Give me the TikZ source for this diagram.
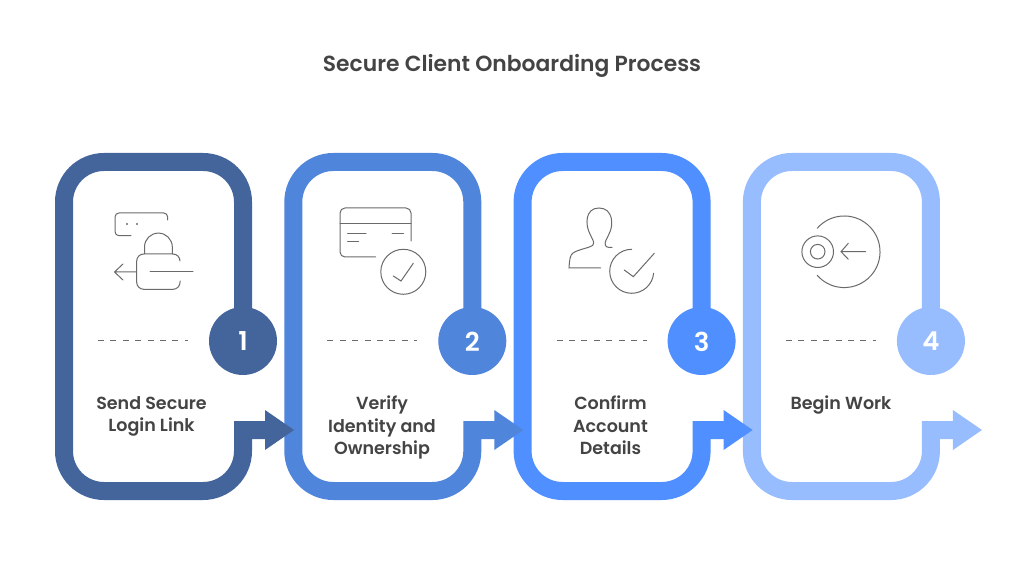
\documentclass[tikz,border=0pt]{standalone}
\usepackage{fontspec}
\setmainfont{Poppins}[BoldFont=* SemiBold]
\definecolor{stepa}{HTML}{43659B}
\definecolor{stepb}{HTML}{5085DC}
\definecolor{stepc}{HTML}{4F8FFF}
\definecolor{stepd}{HTML}{97BDFF}
\definecolor{inktext}{HTML}{444444}
\definecolor{inkicon}{HTML}{6A6A6A}
\tikzset{
	frameline/.style={line width=18pt},
	badge/.style={circle,minimum size=68pt,inner sep=0pt,text=white,font=\bfseries\fontsize{26}{26}\selectfont},
	steplabel/.style={align=center,anchor=north,inner sep=0pt,text=inktext,font=\bfseries\fontsize{17.5}{22.4}\selectfont},
	icon/.style={inkicon,line width=1pt,line cap=round},
}
\begin{document}
\begin{tikzpicture}[x=1pt,y=1pt]
	\useasboundingbox (0,0) rectangle (1024,581);
	\fill[white] (0,0) rectangle (1024,581);
	\node[text=inktext,font=\bfseries\fontsize{21.85}{24}\selectfont] (title) at (512,515.5) {Secure Client Onboarding Process};
	% frames, last one first so each arrow lies over the next frame
	\foreach \index/\stepcol/\num in {3/stepd/4,2/stepc/3,1/stepb/2,0/stepa/1} {
		\begin{scope}[xshift=\index*229.3pt]
			\draw[frameline,\stepcol] (243,240) -- (243,379) arc[start angle=0,end angle=90,radius=40pt] -- (104,419) arc[start angle=90,end angle=180,radius=40pt] -- (64,130) arc[start angle=180,end angle=270,radius=40pt] -- (203,90) arc[start angle=-90,end angle=0,radius=40pt] -- (243,151) -- (266,151);
			\fill[\stepcol] (265,171) -- (294,151) -- (265,131) -- cycle;
			\node[badge,fill=\stepcol,text depth=0pt] (badge\num) at (243,240) {\raisebox{-1pt}{\num}};
			\draw[inkicon,line width=1pt,dash pattern=on 6pt off 6.4pt] (98,240.5) -- (188,240.5);
		\end{scope}
	}
	\node[steplabel] (label1) at (151.5,185) {Send Secure\\Login Link};
	\node[steplabel] (label2) at (382,185) {Verify\\Identity and\\Ownership};
	\node[steplabel] (label3) at (610.5,185) {Confirm\\Account\\Details};
	\node[steplabel] (label4) at (841,185) {Begin Work};
	% login icon
	\begin{scope}[icon]
		\draw[rounded corners=4pt] (167.7,361) -- (167.7,368) -- (115,368) -- (115,345.3) -- (131,345.3);
		\fill (127,357) circle (1.2pt) (137,357) circle (1.2pt);
		\draw (144.5,327) -- (144.5,334) arc[start angle=180,end angle=0,radius=13.9pt] -- (172.3,327);
		\draw[rounded corners=7pt] (180,320) -- (180,327) -- (136.7,327) -- (136.7,291.7) -- (180,291.7) -- (180,300);
		\draw (136.7,309) -- (114.5,309) (123,317) -- (114.5,309) -- (123,301);
		\draw (150,309) -- (193,309);
	\end{scope}
	% card icon
	\begin{scope}[icon]
		\draw[rounded corners=5pt] (411,340) -- (411,373) -- (340,373) -- (340,324) -- (375.5,324);
		\draw (340,357.7) -- (411,357.7);
		\draw (347.5,347) -- (366,347) (392,347) -- (403.5,347) (347.5,339.3) -- (358.5,339.3);
		\draw (403.3,309.2) circle (22.5pt);
		\draw (393.3,305) -- (401,300) -- (413.3,317.7);
	\end{scope}
	% person icon
	\begin{scope}[icon]
		\draw (600.7,313) -- (569,313) .. controls (569.5,321) and (570,326) .. (573,328) .. controls (579,332) and (590,333) .. (593,336) .. controls (595,339) and (592,342) .. (590,347) .. controls (585,356) and (585,373) .. (599,373) .. controls (613,373) and (614,356) .. (609,347) .. controls (607,342) and (604,339) .. (605.5,335.5) .. controls (606.5,333) and (610,334) .. (612,333.5);
		\draw (631.7,331.7) arc[start angle=90,end angle=355,radius=22pt];
		\draw (624.3,311) -- (633.3,304.3) -- (654.3,327.7);
	\end{scope}
	% entry icon
	\begin{scope}[icon]
		\draw (817.7,329.3) circle (7.3pt) (817.7,329.3) circle (15.8pt);
		\draw (817.2,352.7) arc[start angle=139,end angle=-139,radius=35.8pt];
		\draw (865.7,329.3) -- (841,329.3) (848.3,337.7) -- (841,329.3) -- (848.3,321.7);
	\end{scope}
\end{tikzpicture}
\end{document}
